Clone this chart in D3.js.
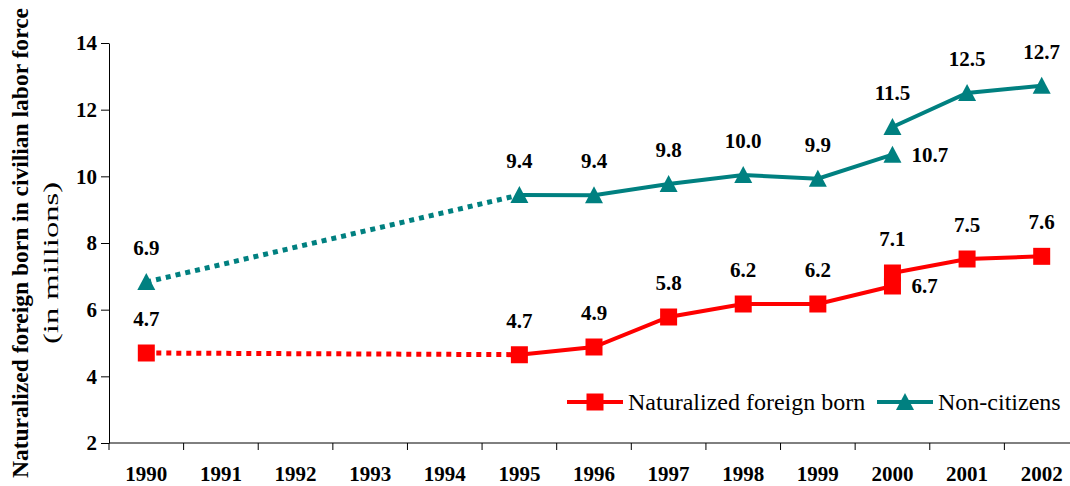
<!DOCTYPE html>
<html>
<head>
<meta charset="utf-8">
<script src="https://cdn.jsdelivr.net/npm/d3@7"></script>
<style>
    body { margin: 0; background: #fff; }
    svg, svg text { font-family: "Liberation Serif", "Times New Roman", serif; }
    .tick text { font-weight: bold; fill: #000; }
    .lbl { font-weight: bold; font-size: 21px; fill: #000; }
</style>
</head>
<body>
<div id="chart"></div>
<script>
// categories on the x axis
const years = ["1990", "1991", "1992", "1993", "1994", "1995", "1996",
    "1997", "1998", "1999", "2000", "2001", "2002"]
const yTicks = [2, 4, 6, 8, 10, 12, 14]

// 2000 has two points (old and new population weights)
const pointYears = ["1990", "1995", "1996", "1997", "1998", "1999", "2000", "2000", "2001", "2002"]

const naturalizedValues = [4.7, 4.65, 4.88, 5.78, 6.17, 6.17, 6.71, 7.1, 7.52, 7.6]
const naturalizedLabels = ["4.7", "4.7", "4.9", "5.8", "6.2", "6.2", "6.7", "7.1", "7.5", "7.6"]

const noncitizenValues = [6.83, 9.44, 9.43, 9.77, 10.04, 9.93, 10.65, 11.48, 12.5, 12.72]
const noncitizenLabels = ["6.9", "9.4", "9.4", "9.8", "10.0", "9.9", "10.7", "11.5", "12.5", "12.7"]

// which point indexes go in each line piece
const dottedPart = [0, 1]
const solidParts = [[1, 2, 3, 4, 5, 6], [7, 8, 9]]
const rightLabelIndex = 6

const series = [
    { name: "Naturalized foreign born", values: naturalizedValues, labels: naturalizedLabels, color: "#ff0000", marker: "square" },
    { name: "Non-citizens", values: noncitizenValues, labels: noncitizenLabels, color: "#008080", marker: "triangle" }
]

const W = 1070, H = 486
const plot = { left: 109, right: 1079, top: 43, bottom: 443 }

const svg = d3.select("#chart").append("svg")
    .attr("width", W)
    .attr("height", H)

const x = d3.scaleBand()
    .domain(years)
    .range([plot.left, plot.right])
    .padding(0)

const y = d3.scaleLinear()
    .domain([2, 14])
    .range([plot.bottom, plot.top])

const cx = i => x(pointYears[i]) + x.bandwidth() / 2

// y axis
svg.append("g")
    .attr("transform", `translate(${plot.left},0)`)
    .call(d3.axisLeft(y).tickValues(yTicks).tickSize(8).tickSizeOuter(0).tickPadding(4))
    .attr("font-family", null)
    .call(g => g.selectAll("text").style("font-size", "21px").attr("dy", "0.33em"))
    .call(g => g.selectAll("line, path").attr("stroke", "#000"))

// x axis: labels centred in bands, tick marks on band edges
svg.append("g")
    .attr("transform", `translate(0,${plot.bottom})`)
    .call(d3.axisBottom(x).tickSize(0).tickPadding(24))
    .attr("font-family", null)
    .call(g => g.select(".domain").remove())
    .call(g => g.selectAll("text").style("font-size", "21px").attr("dy", "0.68em"))

svg.append("line")
    .attr("x1", plot.left).attr("x2", W + 10)
    .attr("y1", plot.bottom).attr("y2", plot.bottom)
    .attr("stroke", "#000")

svg.append("g")
    .selectAll("line")
    .data(years)
    .enter().append("line")
    .attr("x1", d => x(d)).attr("x2", d => x(d))
    .attr("y1", plot.bottom).attr("y2", plot.bottom + 7)
    .attr("stroke", "#000")

// axis titles
svg.append("text")
    .attr("transform", "rotate(-90)")
    .attr("x", -243)
    .attr("y", 28)
    .attr("text-anchor", "middle")
    .attr("textLength", 470)
    .attr("lengthAdjust", "spacingAndGlyphs")
    .style("font-weight", "bold")
    .style("font-size", "23px")
    .text("Naturalized foreign born in civilian labor force")

svg.append("text")
    .attr("transform", "rotate(-90)")
    .attr("x", -263)
    .attr("y", 58)
    .attr("text-anchor", "middle")
    .attr("textLength", 162)
    .attr("lengthAdjust", "spacingAndGlyphs")
    .style("font-size", "22px")
    .text("(in millions)")

const line = d3.line()
    .x(i => cx(i))

function markerPath(type, px, py) {
    if (type === "square") {
        const s = 8.5
        return `M${px - s},${py - s}h${2 * s}v${2 * s}h${-2 * s}Z`
    }
    return `M${px},${py - 9}L${px + 9},${py + 8}L${px - 9},${py + 8}Z`
}

series.forEach(s => {
    line.y(i => y(s.values[i]))
    const g = svg.append("g")

    g.append("path")
        .attr("d", line(dottedPart))
        .attr("fill", "none")
        .attr("stroke", s.color)
        .attr("stroke-width", 5)
        .attr("stroke-dasharray", "5,5")

    solidParts.forEach(part => {
        g.append("path")
            .attr("d", line(part))
            .attr("fill", "none")
            .attr("stroke", s.color)
            .attr("stroke-width", 4)
    })

    g.selectAll(".mark")
        .data(s.values)
        .enter().append("path")
        .attr("class", "mark")
        .attr("d", (v, i) => markerPath(s.marker, cx(i), y(v)))
        .attr("fill", s.color)

    g.selectAll(".lbl")
        .data(s.labels)
        .enter().append("text")
        .attr("class", "lbl")
        .attr("x", (d, i) => i === rightLabelIndex ? cx(i) + 19 : cx(i))
        .attr("y", (d, i) => i === rightLabelIndex ? y(s.values[i]) + 7 : y(s.values[i]) - 27)
        .attr("text-anchor", (d, i) => i === rightLabelIndex ? "start" : "middle")
        .text(d => d)
})

// legend
const legend = svg.append("g")
const legendItems = [
    { s: series[0], x: 567 },
    { s: series[1], x: 877 }
]
legendItems.forEach(item => {
    const ly = 402
    legend.append("line")
        .attr("x1", item.x).attr("x2", item.x + 56)
        .attr("y1", ly).attr("y2", ly)
        .attr("stroke", item.s.color)
        .attr("stroke-width", 4)
    legend.append("path")
        .attr("d", markerPath(item.s.marker, item.x + 28, ly))
        .attr("fill", item.s.color)
    legend.append("text")
        .attr("x", item.x + 61)
        .attr("y", ly + 8)
        .style("font-size", "24px")
        .text(item.s.name)
})
</script>
</body>
</html>
